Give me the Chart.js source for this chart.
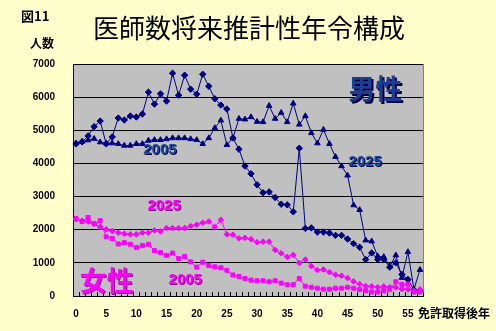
<!DOCTYPE html>
<html>
<head>
<meta charset="utf-8">
<script src="https://cdn.jsdelivr.net/npm/chart.js@4.4.1/dist/chart.umd.min.js"></script>
<style>
  html, body { margin: 0; padding: 0; background: #ffffcc; }
  canvas { display: block; }
</style>
</head>
<body>
<canvas id="chart" width="496" height="331"></canvas>
<script>
// years after licence (category axis)
const years = [0, 1, 2, 3, 4, 5, 6, 7, 8, 9, 10, 11, 12, 13, 14, 15, 16, 17, 18, 19,
  20, 21, 22, 23, 24, 25, 26, 27, 28, 29, 30, 31, 32, 33, 34, 35, 36, 37, 38, 39,
  40, 41, 42, 43, 44, 45, 46, 47, 48, 49, 50, 51, 52, 53, 54, 55, 56, 57];
const xTickLabels = ['0', '5', '10', '15', '20', '25', '30', '35', '40', '45', '50', '55'];

const male2005 = [4590, 4650, 4830, 5110, 5280, 4590, 4800, 5370, 5310, 5430,
  5400, 5490, 6150, 5790, 6100, 5880, 6720, 6060, 6660, 6240,
  6090, 6690, 6330, 5950, 5760, 5640, 4770, 4430, 3920, 3690,
  3355, 3115, 3140, 2970, 2770, 2750, 2540, 4460, 2040, 2055,
  1930, 1930, 1900, 1830, 1830, 1720, 1580, 1470, 1100, 1300,
  1100, 1110, 870, 1000, 650, 500, 180, 150];
const male2025 = [4610, 4660, 4700, 4745, 4640, 4610, 4610, 4590, 4540, 4540,
  4590, 4590, 4690, 4710, 4710, 4735, 4765, 4765, 4765, 4735,
  4710, 4590, 4765, 5070, 5300, 4560, 4765, 5350, 5330, 5400,
  5260, 5250, 5740, 5350, 5530, 5250, 5810, 5175, 5430, 4920,
  4610, 5020, 4590, 4200, 3920, 3640, 2740, 2600, 1680, 1650,
  1200, 1180, 900, 1230, 550, 1330, 200, 790];
const female2025 = [2320, 2270, 2245, 2180, 2080, 2010, 1960, 1910, 1880, 1860,
  1860, 1910, 1910, 1980, 1950, 2050, 2050, 2050, 2050, 2110,
  2150, 2210, 2250, 2080, 2300, 1860, 1850, 1740, 1755, 1715,
  1620, 1640, 1640, 1390, 1290, 1180, 1240, 1000, 1100, 900,
  780, 800, 720, 640, 610, 540, 440, 360, 300, 290,
  265, 290, 265, 265, 210, 200, 150, 200];
const female2005 = [2340, 2245, 2370, 2180, 2275, 1785, 1735, 1570, 1610, 1560,
  1460, 1520, 1560, 1370, 1310, 1225, 1295, 1130, 1195, 1030,
  870, 1020, 920, 880, 850, 775, 635, 590, 530, 480,
  460, 460, 430, 460, 390, 340, 340, 530, 295, 265,
  235, 205, 205, 235, 235, 265, 235, 195, 165, 120,
  120, 165, 200, 430, 350, 360, 120, 130];

const NAVY = '#000080';
const MAGENTA = '#ff00ff';

// in-chart labels, placed in data coordinates
const notes = [
  { text: '男性', x: 49.6, y: 6240, font: 'bold 27px "Noto Sans CJK JP"', color: '#1a3d96', shadow: '#00003c', off: 2 },
  { text: '2005', x: 13.9, y: 4420, font: 'bold 15px "Liberation Sans"', color: '#1a4a9c', shadow: '#000040', off: 1 },
  { text: '2025', x: 47.9, y: 4060, font: 'bold 15px "Liberation Sans"', color: '#1a4a9c', shadow: '#000040', off: 1 },
  { text: '2025', x: 14.6, y: 2730, font: 'bold 15px "Liberation Sans"', color: MAGENTA, shadow: '#880088', off: 1 },
  { text: '2005', x: 18.1, y: 485, font: 'bold 15px "Liberation Sans"', color: MAGENTA, shadow: '#880088', off: 1 },
  { text: '女性', x: 5.1, y: 455, font: 'bold 27px "Noto Sans CJK JP"', color: MAGENTA, shadow: '#990099', off: 1 }
];

const plotFrame = {
  id: 'plotFrame',
  beforeDraw(chart) {
    const { ctx, chartArea: a } = chart;
    ctx.save();
    ctx.fillStyle = '#c0c0c0';
    ctx.fillRect(a.left, a.top, a.right - a.left, a.bottom - a.top);
    ctx.restore();
  },
  beforeDatasetsDraw(chart) {
    const { ctx, chartArea: a } = chart;
    ctx.save();
    ctx.strokeStyle = '#808080';
    ctx.lineWidth = 1;
    ctx.beginPath();
    ctx.moveTo(a.right + 0.5, a.top);
    ctx.lineTo(a.right + 0.5, a.bottom);
    ctx.stroke();
    // category tick marks pointing into the plot
    ctx.strokeStyle = '#000';
    const n = years.length;
    const step = (a.right - a.left) / n;
    ctx.beginPath();
    for (let i = 0; i <= n; i++) {
      const x = Math.round(a.left + i * step) + 0.5;
      ctx.moveTo(x, a.bottom - 4);
      ctx.lineTo(x, a.bottom);
    }
    ctx.stroke();
    ctx.restore();
  }
};

const textLayer = {
  id: 'textLayer',
  afterDraw(chart) {
    const { ctx, scales } = chart;
    ctx.save();
    ctx.textBaseline = 'middle';
    ctx.fillStyle = '#000';

    ctx.textAlign = 'center';
    ctx.font = '26px "Noto Sans CJK JP"';
    ctx.fillText('医師数将来推計性年令構成', 249, 28);

    ctx.textAlign = 'left';
    ctx.font = 'bold 13px "Noto Sans CJK JP"';
    ctx.fillText('図11', 21, 16);
    ctx.font = 'bold 12px "Noto Sans CJK JP"';
    ctx.fillText('人数', 30, 43);
    ctx.fillText('免許取得後年', 418, 313);

    ctx.textAlign = 'center';
    notes.forEach(n => {
      const px = scales.x.getPixelForValue(n.x);
      const py = scales.y.getPixelForValue(n.y);
      ctx.font = n.font;
      ctx.fillStyle = n.shadow;
      ctx.fillText(n.text, px + n.off, py + n.off);
      ctx.fillStyle = n.color;
      ctx.fillText(n.text, px, py);
    });
    ctx.restore();
  }
};

function series(data, color, style, radius) {
  return {
    data: data,
    borderColor: color,
    backgroundColor: color,
    borderWidth: 1,
    pointStyle: style,
    pointRadius: radius,
    pointBorderWidth: 1,
    tension: 0
  };
}

new Chart(document.getElementById('chart').getContext('2d'), {
  type: 'line',
  data: {
    labels: years,
    datasets: [
      series(female2005, MAGENTA, 'rect', 2.8),
      series(female2025, MAGENTA, 'rectRot', 2.8),
      series(male2005, NAVY, 'rectRot', 3.2),
      series(male2025, NAVY, 'triangle', 3.2)
    ]
  },
  options: {
    responsive: false,
    animation: false,
    layout: { padding: { left: 0, top: 64, right: 73, bottom: 0 } },
    plugins: {
      legend: { display: false },
      tooltip: { enabled: false },
      title: { display: false }
    },
    scales: {
      x: {
        offset: true,
        grid: { display: false, drawTicks: false },
        border: { color: '#000', width: 1 },
        ticks: {
          autoSkip: false,
          maxRotation: 0,
          padding: 12,
          color: '#000',
          font: { family: 'Liberation Sans', size: 10, weight: 'bold' },
          callback(value) {
            const l = String(this.getLabelForValue(value));
            return xTickLabels.includes(l) ? l : '';
          }
        },
        afterFit(scale) { scale.height = 35; }
      },
      y: {
        min: 0,
        max: 7000,
        grid: { color: '#000', lineWidth: 1, drawTicks: false },
        border: { color: '#000', width: 1 },
        ticks: {
          stepSize: 1000,
          padding: 18,
          color: '#000',
          font: { family: 'Liberation Sans', size: 10, weight: 'bold' },
          callback: value => String(value)
        },
        afterFit(scale) { scale.width = 73; }
      }
    }
  },
  plugins: [plotFrame, textLayer]
});
</script>
</body>
</html>
